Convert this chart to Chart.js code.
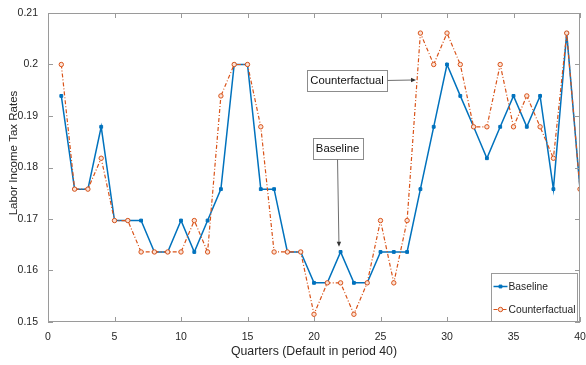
<!DOCTYPE html>
<html>
<head>
<meta charset="utf-8">
<title>Labor income tax rates</title>
<script src="https://cdn.jsdelivr.net/npm/chart.js@4/dist/chart.umd.min.js"></script>
<style>
  html, body { margin: 0; padding: 0; background: #fff; }
  canvas { display: block; }
</style>
</head>
<body>
<canvas id="tax-chart" width="586" height="365"></canvas>
<script>
// quarters 1..40, tax rate paths for the two scenarios
const quarters = [1, 2, 3, 4, 5, 6, 7, 8, 9, 10, 11, 12, 13, 14, 15, 16, 17, 18, 19, 20,
                  21, 22, 23, 24, 25, 26, 27, 28, 29, 30, 31, 32, 33, 34, 35, 36, 37, 38, 39, 40];

const baseline = [0.1939, 0.1758, 0.1758, 0.1879, 0.1697, 0.1697, 0.1697, 0.1636, 0.1636, 0.1697,
                  0.1636, 0.1697, 0.1758, 0.2000, 0.2000, 0.1758, 0.1758, 0.1636, 0.1636, 0.1576,
                  0.1576, 0.1636, 0.1576, 0.1576, 0.1636, 0.1636, 0.1636, 0.1758, 0.1879, 0.2000,
                  0.1939, 0.1879, 0.1818, 0.1879, 0.1939, 0.1879, 0.1939, 0.1758, 0.2061, 0.1758];

const counterfactual = [0.2000, 0.1758, 0.1758, 0.1818, 0.1697, 0.1697, 0.1636, 0.1636, 0.1636, 0.1636,
                        0.1697, 0.1636, 0.1939, 0.2000, 0.2000, 0.1879, 0.1636, 0.1636, 0.1636, 0.1515,
                        0.1576, 0.1576, 0.1515, 0.1576, 0.1697, 0.1576, 0.1697, 0.2061, 0.2000, 0.2061,
                        0.2000, 0.1879, 0.1879, 0.2000, 0.1879, 0.1939, 0.1879, 0.1818, 0.2061, 0.1758];

const xTicks = [0, 5, 10, 15, 20, 25, 30, 35, 40];
const yTicks = [0.15, 0.16, 0.17, 0.18, 0.19, 0.2, 0.21];

const BLUE   = '#0072BD';
const ORANGE = '#D95319';
const AXIS   = '#9a9a9a';
const TEXT   = '#262626';
const FONT   = '"Liberation Sans", Arial, sans-serif';

const yTitle = 'Labor Income Tax Rates';

// callouts: box centre and arrow tip, both in data units
const callouts = [
  { text: 'Counterfactual', box: [22.48, 0.1969], tip: [27.67, 0.1970], side: 'right'  },
  { text: 'Baseline',       box: [21.77, 0.1837], tip: [21.88, 0.1646], side: 'bottom' },
];

const toPoints = ys => quarters.map((q, i) => ({ x: q, y: ys[i] }));

// MATLAB-ish frame: full box, inward tick marks on all four sides,
// y label, text arrows and a legend inside the lower right corner
const framePlugin = {
  id: 'frame',
  afterDraw(chart) {
    const { ctx, chartArea: a, scales: { x, y } } = chart;
    const tick = 5;

    ctx.save();
    ctx.strokeStyle = AXIS;
    ctx.lineWidth = 1;
    ctx.strokeRect(a.left + 0.5, a.top + 0.5, a.right - a.left - 1, a.bottom - a.top - 1);

    ctx.beginPath();
    xTicks.forEach(v => {
      const px = Math.round(x.getPixelForValue(v)) + 0.5;
      ctx.moveTo(px, a.bottom); ctx.lineTo(px, a.bottom - tick);
      ctx.moveTo(px, a.top);    ctx.lineTo(px, a.top + tick);
    });
    yTicks.forEach(v => {
      const py = Math.round(y.getPixelForValue(v)) + 0.5;
      ctx.moveTo(a.left, py);  ctx.lineTo(a.left + tick, py);
      ctx.moveTo(a.right, py); ctx.lineTo(a.right - tick, py);
    });
    ctx.stroke();

    // y label, sitting a little above the axis middle
    ctx.save();
    ctx.translate(14, 153);
    ctx.rotate(-Math.PI / 2);
    ctx.font = '11.5px ' + FONT;
    ctx.fillStyle = TEXT;
    ctx.textAlign = 'center';
    ctx.textBaseline = 'middle';
    ctx.fillText(yTitle, 0, 0);
    ctx.restore();

    // text arrows
    ctx.font = '11.3px ' + FONT;
    ctx.textAlign = 'center';
    ctx.textBaseline = 'middle';
    callouts.forEach(c => {
      const cx = x.getPixelForValue(c.box[0]);
      const cy = y.getPixelForValue(c.box[1]);
      const tx = x.getPixelForValue(c.tip[0]);
      const ty = y.getPixelForValue(c.tip[1]);
      const w = Math.round(ctx.measureText(c.text).width + 7);
      const h = 21;
      const bx = Math.round(cx - w / 2) + 0.5;
      const by = Math.round(cy - h / 2) + 0.5;

      ctx.fillStyle = '#fff';
      ctx.fillRect(bx, by, w, h);
      ctx.strokeStyle = '#8c8c8c';
      ctx.strokeRect(bx, by, w, h);
      ctx.fillStyle = '#111';
      ctx.fillText(c.text, cx, cy + 0.5);

      const sx = c.side === 'right' ? bx + w : cx;
      const sy = c.side === 'right' ? cy : by + h;
      const ang = Math.atan2(ty - sy, tx - sx);
      ctx.strokeStyle = '#6e6e6e';
      ctx.beginPath();
      ctx.moveTo(sx, sy);
      ctx.lineTo(tx - 4 * Math.cos(ang), ty - 4 * Math.sin(ang));
      ctx.stroke();
      ctx.fillStyle = '#333';
      ctx.beginPath();
      ctx.moveTo(tx, ty);
      ctx.lineTo(tx - 5 * Math.cos(ang) + 2.2 * Math.sin(ang), ty - 5 * Math.sin(ang) - 2.2 * Math.cos(ang));
      ctx.lineTo(tx - 5 * Math.cos(ang) - 2.2 * Math.sin(ang), ty - 5 * Math.sin(ang) + 2.2 * Math.cos(ang));
      ctx.closePath();
      ctx.fill();
    });

    // legend
    const items = chart.data.datasets;
    ctx.font = '10.3px ' + FONT;
    const textW = Math.max(...items.map(d => ctx.measureText(d.label).width));
    const lw = Math.round(17 + textW + 2);
    const lh = 48;
    const lx = Math.round(a.right - 3 - lw) + 0.5;
    const ly = Math.round(a.bottom - 1 - lh) + 0.5;
    ctx.fillStyle = '#fff';
    ctx.fillRect(lx, ly, lw, lh);
    ctx.strokeStyle = '#9a9a9a';
    ctx.lineWidth = 1;
    ctx.strokeRect(lx, ly, lw, lh);

    ctx.textAlign = 'left';
    items.forEach((d, i) => {
      const rowY = ly + 13 + i * 23;
      ctx.strokeStyle = d.borderColor;
      ctx.lineWidth = d.borderWidth;
      ctx.setLineDash(d.borderDash || []);
      ctx.beginPath();
      ctx.moveTo(lx + 2, rowY);
      ctx.lineTo(lx + 16, rowY);
      ctx.stroke();
      ctx.setLineDash([]);
      ctx.fillStyle = d.backgroundColor;
      ctx.lineWidth = d.pointBorderWidth;
      Chart.helpers.drawPoint(ctx, {
        pointStyle: d.pointStyle, radius: d.pointRadius, borderWidth: d.pointBorderWidth, rotation: 0,
      }, lx + 9, rowY);
      ctx.fillStyle = TEXT;
      ctx.fillText(d.label, lx + 17, rowY + 0.5);
    });
    ctx.restore();
  },
};

// pin the plot box: fixed axis sizes and no extra label overhang padding
const pinX = s => { s.height = 43; s.paddingLeft = 0; s.paddingRight = 0; };
const pinY = s => { s.width = 48; s.paddingTop = 0; s.paddingBottom = 0; };

new Chart(document.getElementById('tax-chart'), {
  type: 'line',
  data: {
    datasets: [
      {
        label: 'Baseline',
        data: toPoints(baseline),
        borderColor: BLUE,
        backgroundColor: BLUE,
        borderWidth: 1.5,
        pointStyle: 'rect',
        pointRadius: 2,
        pointBorderWidth: 1,
        order: 1,
      },
      {
        label: 'Counterfactual',
        data: toPoints(counterfactual),
        borderColor: ORANGE,
        backgroundColor: '#fbe2d6',
        borderWidth: 1.2,
        borderDash: [4, 2, 1, 2],
        pointStyle: 'circle',
        pointRadius: 2.2,
        pointBorderWidth: 1,
        order: 0,
      },
    ],
  },
  options: {
    responsive: false,
    animation: false,
    devicePixelRatio: 1,
    layout: { padding: { top: 13, right: 6, left: 0, bottom: 0 } },
    plugins: {
      legend:  { display: false },
      tooltip: { enabled: false },
    },
    elements: { line: { tension: 0 } },
    scales: {
      x: {
        type: 'linear',
        min: 0,
        max: 40,
        afterBuildTicks: s => { s.ticks = xTicks.map(v => ({ value: v })); },
        afterFit: pinX,
        grid:   { display: false, drawTicks: false },
        border: { display: false },
        ticks: {
          padding: 9,
          color: TEXT,
          maxRotation: 0,
          autoSkip: false,
          font: { family: FONT, size: 10.5 },
        },
        title: {
          display: true,
          text: 'Quarters (Default in period 40)',
          color: TEXT,
          padding: { top: 0, bottom: 6 },
          font: { family: FONT, size: 12.3 },
        },
      },
      y: {
        min: 0.15,
        max: 0.21,
        afterBuildTicks: s => { s.ticks = yTicks.map(v => ({ value: v })); },
        afterFit: pinY,
        grid:   { display: false, drawTicks: false },
        border: { display: false },
        ticks: {
          padding: 10,
          color: TEXT,
          autoSkip: false,
          font: { family: FONT, size: 10.5 },
          callback: v => String(Number(v.toFixed(2))),
        },
      },
    },
  },
  plugins: [framePlugin],
});
</script>
</body>
</html>
